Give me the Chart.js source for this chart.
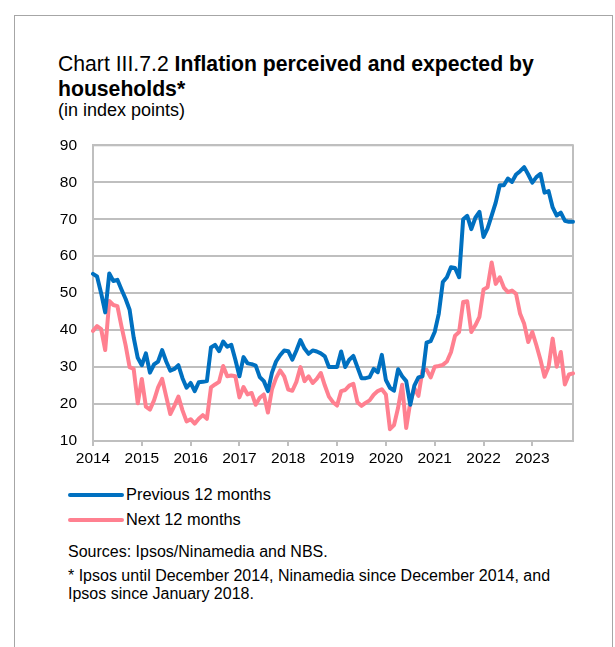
<!DOCTYPE html>
<html>
<head>
<meta charset="utf-8">
<script src="https://cdn.jsdelivr.net/npm/chart.js@4.4.1/dist/chart.umd.min.js"></script>
<style>
  body { margin: 0; background: #fff; font-family: "Liberation Sans", Arial, sans-serif; color: #000; }
  #page { position: relative; width: 615px; height: 647px; overflow: hidden; }
  #frame { position: absolute; left: 14px; top: 15px; width: 597px; height: 700px; border: 1px solid #a6a6a6; }
  #title { position: absolute; left: 58px; top: 51px; width: 540px; font-size: 21.2px; line-height: 25px; }
  #subtitle { position: absolute; left: 58px; top: 100px; font-size: 18px; }
  #chart { position: absolute; left: 0; top: 120px; }
  #legend { position: absolute; left: 68px; top: 482px; font-size: 16.4px; }
  .item { display: flex; align-items: center; height: 25px; }
  .swatch { width: 56px; height: 4px; border-radius: 2px; margin-right: 2px; }
  #notes { position: absolute; left: 68px; top: 543px; font-size: 16px; line-height: 18px; }
</style>
</head>
<body>
<div id="page">
  <div id="frame"></div>
  <div id="title">Chart III.7.2 <b>Inflation perceived and expected by households*</b></div>
  <div id="subtitle">(in index points)</div>
  <canvas id="chart" width="615" height="351"></canvas>
  <div id="legend"></div>
  <div id="notes">
    <div style="margin-bottom:6px">Sources: Ipsos/Ninamedia and NBS.</div>
    <div>* Ipsos until December 2014, Ninamedia since December 2014, and<br>Ipsos since January 2018.</div>
  </div>
</div>
<script>
// ---------------- DATA ----------------
const years = ["2014", "2015", "2016", "2017", "2018", "2019", "2020", "2021", "2022", "2023"];

// monthly, Jan 2014 - Nov 2023
const previous12 = [
  55.2, 54.5, 50, 44.8, 55.3, 53.3, 53.6, 51, 48.5, 45.5, 38, 32.5,
  30.5, 33.7, 28.5, 30.7, 31.5, 34.6, 31.5, 29, 29.5, 30.5, 27, 24.4,
  25.7, 23.5, 25.9, 26, 26.2, 35.3, 36, 34.3, 36.9, 35.5, 36, 32,
  27.5, 32.7, 31, 30.8, 30.4, 27.3, 26.2, 23.5, 28.5, 31.5, 33.2, 34.5,
  34.3, 32, 34.5, 37.3, 35, 33.6, 34.5, 34.2, 33.7, 32.9, 30, 30,
  30, 34.2, 30, 32, 33, 30, 27, 27, 27.3, 29.5, 28.6, 33.3,
  26.5, 24.4, 23.6, 29.4, 27.5, 26.2, 19.8, 25, 27.2, 27.5, 36.6, 37,
  39.5, 44.4, 53, 54.3, 57, 56.8, 54.3, 70, 70.9, 67.3, 70.4, 72,
  65.2, 67.5, 71, 74.5, 79.2, 79.2, 81, 80.1, 82.1, 83, 84.1, 82.1,
  79.9, 81.4, 82.3, 77.2, 77.6, 73.2, 71, 71.8, 69.6, 69.3, 69.3
];

const next12 = [
  39.8, 41.1, 40.3, 34.6, 47.9, 46.8, 46.5, 41, 36, 30, 29.5, 20.2,
  26.8, 19.3, 18.5, 21, 24.5, 26.8, 22, 17.3, 19.5, 22, 18.3, 15.3,
  15.9, 14.7, 16, 17, 16, 24.5, 25.3, 26, 30.3, 27.5, 27.7, 27.5,
  21.8, 24.6, 22.6, 23, 19.8, 21.7, 22.6, 17.7, 24, 27, 29.1, 27.5,
  23.9, 23.6, 26, 30, 26.2, 27.5, 25.7, 26.8, 28.4, 25, 22, 20.5,
  19.6, 23.5, 23.8, 25, 25.5, 20.5, 19.5, 20.3, 21, 22.5, 23.5, 24,
  22.6, 13.2, 14.3, 19, 25.2, 13.5, 20.5, 24.3, 22.2, 29.1, 29.3, 27.2,
  30.1, 30.3, 30.6, 31.5, 34, 38.5, 39.5, 47.6, 47.8, 39.5, 41.3, 43.6,
  51, 51.6, 58.3, 52.5, 54.3, 51.5, 50.3, 50.7, 49.8, 44.4, 41.7, 36.8,
  39.5, 35.9, 32, 27.4, 30.1, 37.7, 30.1, 34.1, 25.3, 28, 28.3
];

// one category per month, year shown on January
const months = [];
years.forEach(y => {
  for (let m = 1; m <= 12; m++) months.push(m + "/" + y);
});
const labels = months.slice(0, previous12.length);

const GRID = "#bfbfbf";

// frame around the plot area (top and right sides too)
const plotBorder = {
  id: "plotBorder",
  beforeDatasetsDraw(chart) {
    const a = chart.chartArea;
    const ctx = chart.ctx;
    ctx.save();
    ctx.strokeStyle = GRID;
    ctx.lineWidth = 2;
    ctx.strokeRect(a.left, a.top, a.right - a.left, a.bottom - a.top);
    ctx.restore();
  }
};

// ---------------- CHART ----------------
const chart = new Chart(document.getElementById("chart"), {
  type: "line",
  data: {
    labels: labels,
    datasets: [
      {
        label: "Previous 12 months",
        data: previous12,
        borderColor: "#0070c0",
        backgroundColor: "#0070c0",
        borderWidth: 4,
        pointRadius: 0,
        tension: 0,
        borderJoinStyle: "round",
        borderCapStyle: "round"
      },
      {
        label: "Next 12 months",
        data: next12,
        borderColor: "#ff8090",
        backgroundColor: "#ff8090",
        borderWidth: 4,
        pointRadius: 0,
        tension: 0,
        borderJoinStyle: "round",
        borderCapStyle: "round"
      }
    ]
  },
  options: {
    responsive: false,
    animation: false,
    devicePixelRatio: 1,
    layout: { padding: { left: 0, right: 42, top: 5, bottom: 0 } },
    plugins: {
      legend: { display: false },
      tooltip: { enabled: false }
    },
    scales: {
      x: {
        type: "category",
        offset: false,
        grid: {
          drawOnChartArea: false,
          drawTicks: true,
          tickLength: 5,
          lineWidth: 2,
          color: (c) => (c.index % 12 === 0 ? GRID : "rgba(0,0,0,0)")
        },
        border: { color: GRID, width: 2 },
        ticks: {
          autoSkip: false,
          maxRotation: 0,
          minRotation: 0,
          padding: 3,
          color: "#000",
          font: { family: "Liberation Sans", size: 15.5 },
          callback: (v, i) => (i % 12 === 0 ? years[i / 12] : "")
        },
        afterFit: (s) => { s.height = 30; }
      },
      y: {
        min: 10,
        max: 90,
        grid: { color: GRID, lineWidth: 2, drawTicks: false },
        border: { color: GRID, width: 2 },
        ticks: {
          stepSize: 10,
          padding: 16,
          color: "#000",
          font: { family: "Liberation Sans", size: 15.5 }
        },
        afterFit: (s) => { s.width = 93; }
      }
    }
  },
  plugins: [plotBorder]
});

// ---------------- LEGEND ----------------
const legend = document.getElementById("legend");
chart.data.datasets.forEach(ds => {
  const row = document.createElement("div");
  row.className = "item";
  const sw = document.createElement("span");
  sw.className = "swatch";
  sw.style.background = ds.borderColor;
  const txt = document.createElement("span");
  txt.textContent = ds.label;
  row.appendChild(sw);
  row.appendChild(txt);
  legend.appendChild(row);
});
</script>
</body>
</html>
